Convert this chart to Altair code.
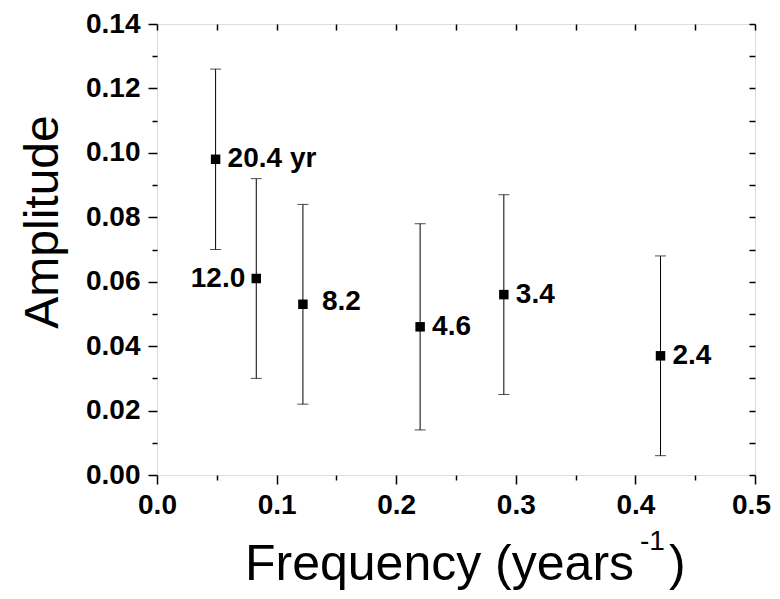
import altair as alt
import pandas as pd

freq = [0.049, 0.083, 0.122, 0.220, 0.290, 0.421]
amp = [0.098, 0.061, 0.053, 0.046, 0.056, 0.037]
err_lo = [0.070, 0.030, 0.022, 0.014, 0.025, 0.006]
err_hi = [0.126, 0.092, 0.084, 0.078, 0.087, 0.068]
labels = ["20.4 yr", "12.0", "8.2", "4.6", "3.4", "2.4"]

x_major = [0.0, 0.1, 0.2, 0.3, 0.4, 0.5]
x_minor = [0.05, 0.15, 0.25, 0.35, 0.45]
y_major = [0.00, 0.02, 0.04, 0.06, 0.08, 0.10, 0.12, 0.14]
y_minor = [0.01, 0.03, 0.05, 0.07, 0.09, 0.11, 0.13]
x_all = sorted(x_major + x_minor)
y_all = sorted(y_major + y_minor)

df = pd.DataFrame({"freq": freq, "amp": amp, "lo": err_lo, "hi": err_hi, "label": labels})

FONT = "Liberation Sans"
W, H = 598, 451

xs = alt.Scale(domain=[0, 0.5], nice=False, zero=False)
ys = alt.Scale(domain=[0, 0.14], nice=False, zero=False)

common = dict(domain=False, grid=False, title=None, tickColor="black", tickWidth=1.5,
              labelFlush=False, labelOverlap=False)

ax_x_major = alt.Axis(orient="bottom", values=x_major, format=".1f", tickSize=9, labelPadding=7,
                      labelFont=FONT, labelFontSize=28, labelFontWeight="bold", labelColor="black",
                      labelOffset={"condition": {"test": "datum.value >= 0.5", "value": -4}, "value": 0},
                      **common)
ax_y_major = alt.Axis(orient="left", values=y_major, format=".2f", tickSize=9, labelPadding=8,
                      labelFont=FONT, labelFontSize=28, labelFontWeight="bold", labelColor="black", **common)
ax_x_minor = alt.Axis(orient="bottom", values=x_minor, tickSize=5, labels=False, **common)
ax_y_minor = alt.Axis(orient="left", values=y_minor, tickSize=5, labels=False, **common)
ax_x_top = alt.Axis(orient="bottom", offset=-H, values=x_all, tickSize=6, labels=False, **common)
ax_y_right = alt.Axis(orient="left", offset=-W, values=y_all, tickSize=6, labels=False, **common)

base = alt.Chart(df)

rules = base.mark_rule(color="black", strokeWidth=1).encode(
    x=alt.X("freq:Q", scale=xs, axis=ax_x_major),
    y=alt.Y("lo:Q", scale=ys, axis=ax_y_major),
    y2="hi:Q",
)

caps = base.transform_fold(["lo", "hi"], as_=["k", "v"]).mark_tick(
    orient="horizontal", color="black", size=11, thickness=1
).encode(
    x=alt.X("freq:Q", scale=xs, axis=ax_x_minor),
    y=alt.Y("v:Q", scale=ys, axis=ax_y_minor),
)

points = base.mark_square(size=90, color="black", opacity=1).encode(
    x=alt.X("freq:Q", scale=xs, axis=ax_x_top),
    y=alt.Y("amp:Q", scale=ys, axis=ax_y_right),
)

def lab(filter_expr, dx, dy, align):
    return base.transform_filter(filter_expr).mark_text(
        font=FONT, fontSize=28, fontWeight="bold", color="black",
        align=align, baseline="middle", dx=dx, dy=dy
    ).encode(
        x=alt.X("freq:Q", scale=xs, axis=None),
        y=alt.Y("amp:Q", scale=ys, axis=None),
        text="label:N",
    )

lab_right = lab("datum.label != '12.0' && datum.label != '8.2'", 12, 0, "left")
lab_82 = lab("datum.label == '8.2'", 19, -2, "left")
lab_12 = lab("datum.label == '12.0'", -11, 1, "right")

tdf = pd.DataFrame({"t": ["Amplitude"]})
ytitle = alt.Chart(tdf).mark_text(font=FONT, fontSize=48, angle=270, align="center",
                                  baseline="alphabetic", color="black").encode(
    text="t:N", x=alt.value(-99), y=alt.value(198))

xt1 = alt.Chart(pd.DataFrame({"t": ["Frequency (years"]})).mark_text(
    font=FONT, fontSize=50, align="left", baseline="alphabetic", color="black").encode(
    text="t:N", x=alt.value(88), y=alt.value(556))
xt2 = alt.Chart(pd.DataFrame({"t": ["-1"]})).mark_text(
    font=FONT, fontSize=28, align="left", baseline="alphabetic", color="black").encode(
    text="t:N", x=alt.value(483), y=alt.value(526))
xt3 = alt.Chart(pd.DataFrame({"t": [")"]})).mark_text(
    font=FONT, fontSize=50, align="left", baseline="alphabetic", color="black").encode(
    text="t:N", x=alt.value(512), y=alt.value(556))

chart = alt.layer(rules, caps, points, lab_right, lab_82, lab_12, ytitle, xt1, xt2, xt3).resolve_axis(
    x="independent", y="independent"
).properties(
    width=W, height=H,
    autosize=alt.AutoSizeParams(type="none"),
    padding={"left": 149, "top": 16, "right": 17, "bottom": 116},
).configure_view(stroke="black", strokeWidth=2).configure(background="white")

chart.save("out.html", embed_options={"renderer": "svg", "actions": False})
